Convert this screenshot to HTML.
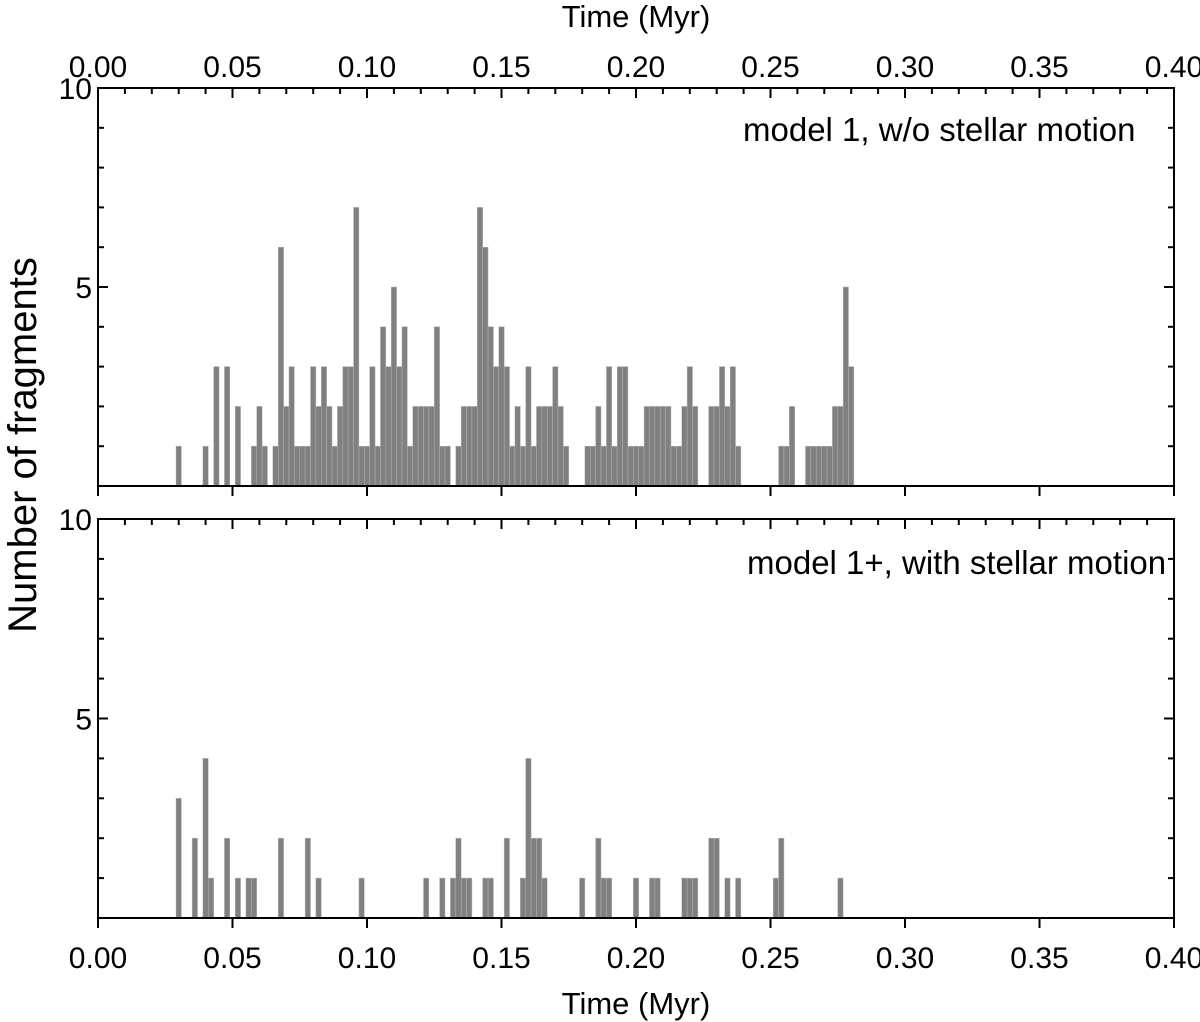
<!DOCTYPE html>
<html><head><meta charset="utf-8"><style>
html,body{margin:0;padding:0;background:#fff;}
svg{display:block;font-family:"Liberation Sans",Arial,sans-serif;}
</style></head><body>
<svg id="chart" width="1200" height="1022" viewBox="0 0 1200 1022" xmlns="http://www.w3.org/2000/svg">
<g id="g"></g>
</svg>
<script>
// Data: bin index k (bin centre = 0.002*k Myr) and counts
const topBins = [15,20,22,24,26,29,30,31,33,34,35,36,37,38,39,40,41,42,43,44,45,46,47,48,49,50,51,52,53,54,55,56,57,58,59,60,61,62,63,64,65,67,68,69,70,71,72,73,74,75,76,77,78,79,80,81,82,83,84,85,86,87,91,92,93,94,95,96,97,98,99,100,101,102,103,104,105,106,107,108,109,110,111,114,115,116,117,118,119,127,128,129,132,133,134,135,136,137,138,139,140];
const topCounts = [1,1,3,3,2,1,2,1,1,6,2,3,1,1,1,3,2,3,2,1,2,3,3,7,1,1,3,1,4,3,5,3,4,1,2,2,2,2,4,1,1,1,2,2,2,7,6,4,3,4,3,1,2,1,3,1,2,2,2,3,2,1,1,1,2,1,3,1,3,3,1,1,1,2,2,2,2,2,1,1,2,3,2,2,2,3,2,3,1,1,1,2,1,1,1,1,1,2,2,5,3];
const botBins = [15,18,20,21,24,26,28,29,34,39,41,49,61,64,66,67,68,69,72,73,76,79,80,81,82,83,90,93,94,95,100,103,104,109,110,111,114,115,117,119,126,127,138];
const botCounts = [3,2,4,1,2,1,1,1,2,2,1,1,1,1,1,2,1,1,1,1,2,1,4,2,2,1,1,2,1,1,1,1,1,1,1,1,2,2,1,1,1,2,1];
const binWidth = 0.002;
const xTickLabels = ["0.00","0.05","0.10","0.15","0.20","0.25","0.30","0.35","0.40"];
const yTickLabels = ["5","10"];

const NS="http://www.w3.org/2000/svg";
const g=document.getElementById('g');
const X0=98, X1=1174, XMAX=0.4;
function xs(t){return X0+(X1-X0)*t/XMAX;}
const panels=[{top:88,bot:486},{top:519,bot:918}];
function ys(p,v){return p.bot-(p.bot-p.top)*v/10;}
function mk(tag,attrs,parent){const e=document.createElementNS(NS,tag);for(const k in attrs)e.setAttribute(k,attrs[k]);(parent||g).appendChild(e);return e;}

function drawBars(p,bins,counts,name){
  const grp=mk('g',{});
  
  
  for(let i=0;i<bins.length;i++){
    const c=bins[i]*binWidth;
    const xl=xs(c-binWidth/2), xr=xs(c+binWidth/2);
    const r=mk('rect',{x:xl,y:ys(p,counts[i]),width:xr-xl,height:ys(p,0)-ys(p,counts[i]),fill:'#808080',stroke:'#b4b4b4','stroke-width':0.5},grp);
    
    
  }
}
drawBars(panels[0],topBins,topCounts,'top-panel-bars');
drawBars(panels[1],botBins,botCounts,'bottom-panel-bars');

function drawAxes(p,idx){
  const ag=mk('g',{stroke:'#000','stroke-width':2,fill:'none'});
  
  
  mk('rect',{x:X0,y:p.top,width:X1-X0,height:p.bot-p.top},ag);
  for(let i=1;i<40;i++){const x=xs(i*0.01);const L=(i%5===0)?10:6;mk('line',{x1:x,y1:p.top,x2:x,y2:p.top+L},ag);}
  for(let i=0;i<=8;i++){const x=xs(i*0.05);mk('line',{x1:x,y1:p.bot,x2:x,y2:p.bot+10},ag);}
  for(let v=1;v<10;v++){const y=ys(p,v);const L=(v===5)?10:6;
    mk('line',{x1:X0,y1:y,x2:X0+L,y2:y},ag);
    mk('line',{x1:X1,y1:y,x2:X1-L,y2:y},ag);}
  yTickLabels.forEach(s=>{const t=mk('text',{x:X0-6,y:ys(p,+s)+11,'font-size':30,'text-anchor':'end',fill:'#000'});t.textContent=s;
    
    });
}
drawAxes(panels[0],0);
drawAxes(panels[1],1);

xTickLabels.forEach(s=>{
  const t1=mk('text',{x:xs(+s),y:77,'font-size':30,'text-anchor':'middle',fill:'#000'});t1.textContent=s;
  
  
  const t2=mk('text',{x:xs(+s),y:968,'font-size':30,'text-anchor':'middle',fill:'#000'});t2.textContent=s;
  
  
});
</script>
<div style="position:absolute;left:0;top:0;width:1200px;height:1022px;pointer-events:none;">
<svg width="1200" height="1022" style="position:absolute;left:0;top:0;font-family:'Liberation Sans',Arial,sans-serif;">
<text x="636" y="27" font-size="31" text-anchor="middle">Time (Myr)</text>
<text x="636" y="1014" font-size="31" text-anchor="middle">Time (Myr)</text>
<text transform="translate(36,445) rotate(-90)" font-size="40" text-anchor="middle">Number of fragments</text>
<text x="743" y="141" font-size="33">model 1, w/o stellar motion</text>
<text x="747" y="574" font-size="33">model 1+, with stellar motion</text>
</svg>
</div>
</body></html>
